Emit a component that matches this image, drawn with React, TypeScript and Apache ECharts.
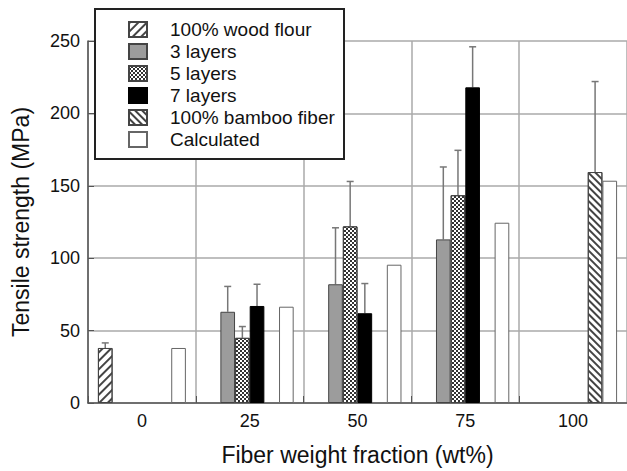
import React, { useEffect, useRef } from "react";
import * as echarts from "echarts";

const categories = ["0", "25", "50", "75", "100"];
const seriesNames = ["100% wood flour", "3 layers", "5 layers", "7 layers", "100% bamboo fiber", "Calculated"];

const woodFlour = [38, null, null, null, null];
const woodFlourUpper = [41.5, null, null, null, null];
const layers3 = [null, 63, 82, 113, null];
const layers3Upper = [null, 80.5, 121, 163, null];
const layers5 = [null, 45, 122, 143.5, null];
const layers5Upper = [null, 52.8, 153, 174.5, null];
const layers7 = [null, 67, 62, 218, null];
const layers7Upper = [null, 82, 82.5, 246, null];
const bamboo = [null, null, null, null, 159.5];
const bambooUpper = [null, null, null, null, 222];
const calculated = [38, 66.5, 95.5, 124.5, 153.5];

const yTicks = [0, 50, 100, 150, 200, 250];

const GAP = 0.184;
const FONT = "'Liberation Sans', Arial, Helvetica, sans-serif";

export default function App() {
  const ref = useRef<HTMLDivElement>(null);
  useEffect(() => {
    if (!ref.current) return;
    const chart = echarts.init(ref.current, null, { renderer: "svg" });

    const values = [woodFlour, layers3, layers5, layers7, bamboo, calculated];
    const uppers = [woodFlourUpper, layers3Upper, layers5Upper, layers7Upper, bambooUpper, null];
    const errData: number[][] = [];
    uppers.forEach((u, s) => {
      if (!u) return;
      u.forEach((up, i) => {
        const v = values[s][i];
        if (up != null && v != null) errData.push([i, v, up, s]);
      });
    });

    const border = { borderColor: "#444", borderWidth: 1 };
    const styles: any[] = [
      {
        color: "#fff",
        ...border,
        decal: { symbol: "rect", symbolSize: 1, dashArrayX: [1, 0], dashArrayY: [1.2, 3.3], rotation: -Math.PI / 4, color: "#444" },
      },
      { color: "#9c9c9c", ...border },
      {
        color: "#fff",
        ...border,
        decal: { symbol: "rect", symbolSize: 1, dashArrayX: [[2, 2], [0, 2, 2, 0]], dashArrayY: [2, 0], rotation: 0, color: "#333" },
      },
      { color: "#000", borderColor: "#000", borderWidth: 1 },
      {
        color: "#fff",
        ...border,
        decal: { symbol: "rect", symbolSize: 1, dashArrayX: [1, 0], dashArrayY: [1.2, 3.0], rotation: Math.PI / 4, color: "#444" },
      },
      { color: "#fff", borderColor: "#666", borderWidth: 1 },
    ];

    const barSeries = values.map((d, s) => ({
      name: seriesNames[s],
      type: "bar",
      data: d,
      barGap: "0%",
      barCategoryGap: (GAP * 100).toFixed(1) + "%",
      itemStyle: styles[s],
      z: 3,
    }));

    chart.setOption({
      animation: false,
      backgroundColor: "#fff",
      textStyle: { fontFamily: FONT },
      grid: { left: 88, top: 41, width: 542, height: 362, containLabel: false },
      graphic: [
        {
          type: "rect",
          x: 95,
          y: 9,
          shape: { x: 0, y: 0, width: 249, height: 150 },
          style: { fill: "#fff", stroke: "#222", lineWidth: 2 },
          z: 20,
        },
      ],
      legend: {
        data: seriesNames,
        orient: "vertical",
        left: 128,
        top: 20,
        padding: 0,
        itemWidth: 18,
        itemHeight: 15,
        itemGap: 3,
        icon: "rect",
        z: 30,
        textStyle: { fontSize: 19, color: "#111", fontFamily: FONT, lineHeight: 15, padding: [0, 0, 0, 18] },
      },
      xAxis: {
        type: "category",
        data: categories,
        name: "Fiber weight fraction (wt%)",
        nameLocation: "middle",
        nameGap: 40,
        nameTextStyle: { fontSize: 23, color: "#111", fontFamily: FONT },
        axisLine: { show: true, lineStyle: { color: "#555", width: 1.5 } },
        axisTick: { show: true, inside: true, length: 7, lineStyle: { color: "#555" } },
        axisLabel: { fontSize: 18, color: "#111", margin: 9, fontFamily: FONT },
        splitLine: { show: true, lineStyle: { color: "#aaa", width: 1.5 } },
      },
      yAxis: {
        type: "value",
        min: yTicks[0],
        max: yTicks[yTicks.length - 1],
        interval: yTicks[1] - yTicks[0],
        name: "Tensile strength (MPa)",
        nameLocation: "middle",
        nameGap: 56,
        nameTextStyle: { fontSize: 23, color: "#111", fontFamily: FONT },
        axisLine: { show: true, lineStyle: { color: "#555", width: 1.5 } },
        axisTick: { show: true, inside: true, length: 6, lineStyle: { color: "#555" } },
        axisLabel: { fontSize: 18, color: "#111", margin: 8, fontFamily: FONT },
        splitLine: { show: true, lineStyle: { color: "#aaa", width: 1.5 } },
      },
      series: [
        ...barSeries,
        {
          type: "custom",
          name: "err",
          data: errData,
          z: 2,
          encode: { x: 0, y: [1, 2] },
          renderItem: (params: any, api: any) => {
            const cat = api.value(0);
            const v = api.value(1);
            const up = api.value(2);
            const s = api.value(3);
            const band = api.size([1, 0])[0];
            const total = band * (1 - GAP);
            const slot = total / 6;
            const base = api.coord([cat, v]);
            const top = api.coord([cat, up]);
            const x = base[0] - total / 2 + slot * (s + 0.5);
            const st = { stroke: "#777", lineWidth: 1.5 };
            return {
              type: "group",
              children: [
                { type: "line", shape: { x1: x, y1: base[1], x2: x, y2: top[1] }, style: st },
                { type: "line", shape: { x1: x - 3.5, y1: top[1], x2: x + 3.5, y2: top[1] }, style: st },
              ],
            };
          },
        },
      ],
    });
    return () => chart.dispose();
  }, []);
  return <div ref={ref} style={{ position: "fixed", left: 0, top: 0, width: 627, height: 471, background: "#fff" }} />;
}
